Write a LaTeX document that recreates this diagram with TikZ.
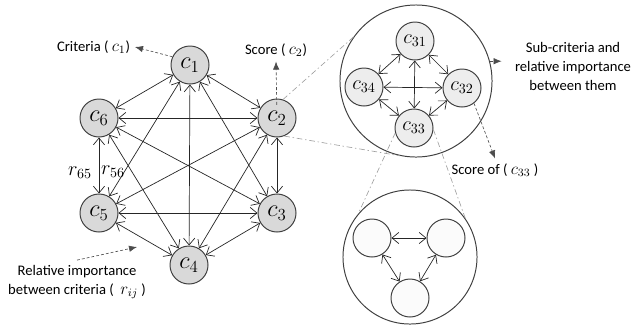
\documentclass[tikz,border=0pt]{standalone}
\usepackage{fontspec}
\setmainfont{Carlito}
\usetikzlibrary{arrows.meta}

\begin{document}
\begin{tikzpicture}[x=0.025cm, y=-0.025cm,
  every node/.style={font=\fontsize{10.4}{13.5}\selectfont},
  critnode/.style={circle, draw=black!75, line width=0.7pt, fill=gray!30, minimum size=0.95cm, inner sep=0pt, font=\LARGE},
  subnode/.style={critnode, fill=gray!14, font=\Large},
  leafnode/.style={critnode, fill=gray!3},
  ringnode/.style={circle, draw=black!75, line width=0.7pt, inner sep=0pt},
  link/.style={{Straight Barb[length=1.7mm,width=2.8mm]}-{Straight Barb[length=1.7mm,width=2.8mm]}, black!85, line width=0.5pt},
  notearrow/.style={-{Latex[length=2mm,width=1.6mm]}, dash pattern=on 2pt off 1.5pt, black!70, line width=0.45pt},
  zoomline/.style={dash pattern=on 4pt off 2pt on 1pt off 2pt, gray!75, line width=0.45pt}]
  \useasboundingbox (0,0) rectangle (643,325);

  \node[critnode] (c1) at (190,65) {$c_1$};
  \node[critnode] (c2) at (277,118) {$c_2$};
  \node[critnode] (c3) at (277,213) {$c_3$};
  \node[critnode] (c4) at (189,265) {$c_4$};
  \node[critnode] (c5) at (99,213) {$c_5$};
  \node[critnode] (c6) at (99,118) {$c_6$};
  \foreach \a/\b in {1/2,1/3,1/4,1/5,1/6,2/3,2/4,2/5,2/6,3/4,3/5,3/6,4/5,4/6,5/6}
    \draw[link] (c\a) -- (c\b);

  \node[font=\Large] (r65) at (80,173) {$r_{65}$};
  \node[font=\Large] (r56) at (113,172) {$r_{56}$};

  \node[anchor=east] (crtxt) at (135,47) {Criteria ( {\large$c_1$})};
  \draw[notearrow] (c1.155) -- (crtxt.east);
  \node (sctxt) at (276,50) {Score ( {\large$c_2$})};
  \draw[notearrow, shorten <=0.33cm] (c2.center) -- (sctxt.south);
  \node[align=center] (rltxt) at (77,282) {Relative importance\\between criteria ( \ {\large$r_{ij}$} )};
  \coordinate (rij) at (137,247);
  \draw[notearrow] (rltxt.north) -- (rij);

  \node[ringnode, minimum size=3.8cm] (bigc) at (416,81) {};
  \node[subnode] (s31) at (415,41) {$c_{31}$};
  \node[subnode] (s32) at (462,88) {$c_{32}$};
  \node[subnode] (s33) at (414,128) {$c_{33}$};
  \node[subnode] (s34) at (364,87) {$c_{34}$};
  \foreach \a/\b in {31/32,31/33,31/34,32/33,32/34,33/34}
    \draw[link] (s\a) -- (s\b);

  \node[align=center] (subtxt) at (573,66) {Sub-criteria and\\relative importance\\between them};
  \draw[notearrow, shorten >=6pt] (bigc.15) -- (bigc.15 -| subtxt.west);
  \node (sotxt) at (495,170) {Score of ( {\large$c_{33}$} )};
  \draw[notearrow] (s32.-52) -- (sotxt.north);

  \node[ringnode, minimum size=3.35cm] (zoomc) at (410,257) {};
  \node[leafnode] (t1) at (372,238) {};
  \node[leafnode] (t2) at (446,238) {};
  \node[leafnode] (t3) at (410,298) {};
  \foreach \a/\b in {1/2,1/3,2/3}
    \draw[link] (t\a) -- (t\b);

  \draw[zoomline] (c2.72) -- (bigc.145);
  \draw[zoomline] (c2.-68) -- (bigc.258);
  \draw[zoomline] (s33.195) -- (zoomc.140);
  \draw[zoomline] (s33.-5) -- (zoomc.35);
\end{tikzpicture}
\end{document}
